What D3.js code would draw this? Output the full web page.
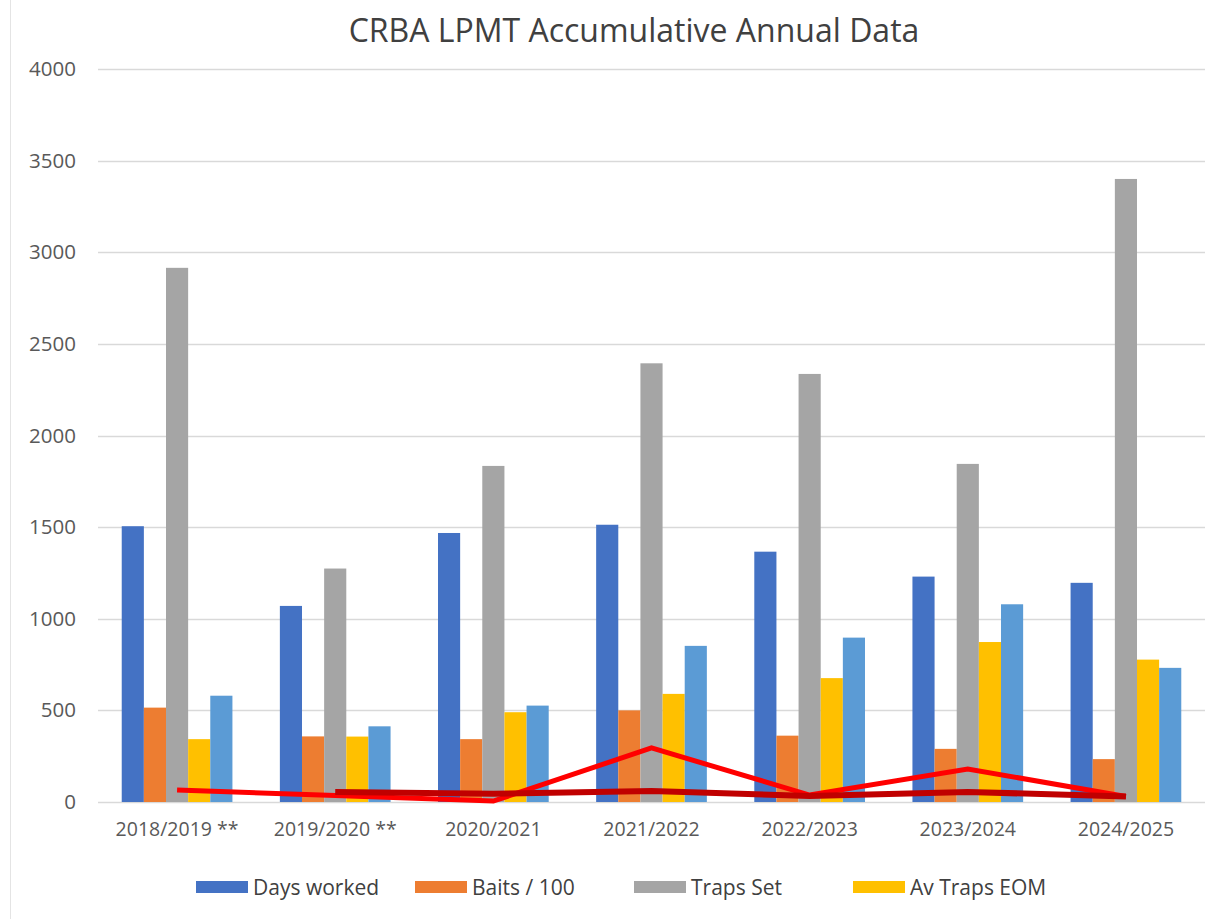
<!DOCTYPE html>
<html>
<head>
<meta charset="utf-8">
<script src="https://cdn.jsdelivr.net/npm/d3@7"></script>
<style>
  body { margin: 0; background: #fff; }
  svg { display: block; font-family: "Open Sans", sans-serif; }
</style>
</head>
<body>
<div id="chart"></div>
<script>
// seasons on the x axis
const seasons = ["2018/2019 **", "2019/2020 **", "2020/2021", "2021/2022", "2022/2023", "2023/2024", "2024/2025"];

// bar series
const daysWorked = [1505, 1070, 1468, 1513, 1366, 1230, 1196];
const baits100   = [515, 358, 343, 500, 362, 290, 234];
const trapsSet   = [2915, 1274, 1834, 2394, 2336, 1845, 3400];
const avTrapsEOM = [343, 357, 490, 590, 676, 873, 777];
const unlabelled = [580, 413, 526, 852, 897, 1079, 732];   // light blue, legend cut off

// line series
const redLine     = [65, 35, 5, 295, 38, 180, 30];
const darkRedLine = [null, 55, 45, 60, 33, 55, 30];

const yTicks = [0, 500, 1000, 1500, 2000, 2500, 3000, 3500, 4000];

const barSeries = [
    { name: "Days worked", values: daysWorked, color: "#4472C4", legend: true },
    { name: "Baits / 100", values: baits100, color: "#ED7D31", legend: true },
    { name: "Traps Set", values: trapsSet, color: "#A5A5A5", legend: true },
    { name: "Av Traps EOM", values: avTrapsEOM, color: "#FFC000", legend: true },
    { name: "Series 5", values: unlabelled, color: "#5B9BD5", legend: false }
];
const lineSeries = [
    { values: redLine, color: "#FF0000", w: 5 },
    { values: darkRedLine, color: "#C00000", w: 6 }
];

const width = 1222, height = 919;
const margin = { top: 69, right: 17, bottom: 117, left: 98 };

const svg = d3.select("#chart").append("svg")
    .attr("width", width)
    .attr("height", height);

// faint frame edge on the left like the screenshot
svg.append("line")
    .attr("x1", 10.5).attr("x2", 10.5)
    .attr("y1", 0).attr("y2", height)
    .attr("stroke", "#e4e4e4");

const x0 = d3.scaleBand()
    .domain(seasons)
    .range([margin.left, width - margin.right])
    .paddingInner(0.3)
    .paddingOuter(0.15);

const x1 = d3.scaleBand()
    .domain(d3.range(barSeries.length))
    .range([0, x0.bandwidth()]);

const y = d3.scaleLinear()
    .domain([0, 4000])
    .range([height - margin.bottom, margin.top]);

// gridlines
svg.append("g")
    .selectAll("line")
    .data(yTicks)
    .join("line")
    .attr("x1", margin.left)
    .attr("x2", width - margin.right)
    .attr("y1", d => Math.round(y(d)) + 0.5)
    .attr("y2", d => Math.round(y(d)) + 0.5)
    .attr("stroke", "#d9d9d9")
    .attr("stroke-width", 1.3);

// y axis labels
const yAxis = d3.axisLeft(y).tickValues(yTicks).tickFormat(d3.format("d")).tickSize(0).tickPadding(22);
svg.append("g")
    .attr("transform", `translate(${margin.left},0)`)
    .call(yAxis)
    .call(g => g.select(".domain").remove())
    .selectAll("text")
    .attr("font-size", 20.5)
    .attr("font-family", "Open Sans, sans-serif")
    .attr("fill", "#595959");

// bars
const groups = svg.append("g")
    .selectAll("g")
    .data(seasons)
    .join("g")
    .attr("transform", d => `translate(${x0(d)},0)`);

groups.selectAll("rect")
    .data((d, i) => barSeries.map((s, k) => ({ k: k, v: s.values[i], color: s.color })))
    .join("rect")
    .attr("x", d => x1(d.k))
    .attr("width", x1.bandwidth())
    .attr("y", d => y(d.v))
    .attr("height", d => y(0) - y(d.v))
    .attr("fill", d => d.color);

// lines
const line = d3.line()
    .defined(d => d.v != null)
    .x(d => x0(d.s) + x0.bandwidth() / 2)
    .y(d => y(d.v));

lineSeries.forEach(ls => {
    svg.append("path")
        .datum(seasons.map((s, i) => ({ s: s, v: ls.values[i] })))
        .attr("d", line)
        .attr("fill", "none")
        .attr("stroke", ls.color)
        .attr("stroke-width", ls.w)
        .attr("stroke-linejoin", "miter");
});

// x axis labels
const xAxis = d3.axisBottom(x0).tickSize(0).tickPadding(20);
svg.append("g")
    .attr("transform", `translate(0,${y(0)})`)
    .call(xAxis)
    .call(g => g.select(".domain").remove())
    .selectAll("text")
    .attr("font-size", 19.5)
    .attr("font-family", "Open Sans, sans-serif")
    .attr("fill", "#595959");

// title
svg.append("text")
    .attr("x", 634)
    .attr("y", 42)
    .attr("text-anchor", "middle")
    .attr("font-size", 32)
    .attr("fill", "#404040")
    .text("CRBA LPMT Accumulative Annual Data");

// legend
const legendX = [196, 415, 634, 853];
const legend = svg.append("g")
    .selectAll("g")
    .data(barSeries.filter(s => s.legend))
    .join("g")
    .attr("transform", (d, i) => `translate(${legendX[i]},887)`);

legend.append("rect")
    .attr("x", 0)
    .attr("y", -6)
    .attr("width", 52)
    .attr("height", 12)
    .attr("fill", d => d.color);

legend.append("text")
    .attr("x", 57)
    .attr("y", 7.5)
    .attr("font-size", 21)
    .attr("fill", "#404040")
    .text(d => d.name);
</script>
</body>
</html>
